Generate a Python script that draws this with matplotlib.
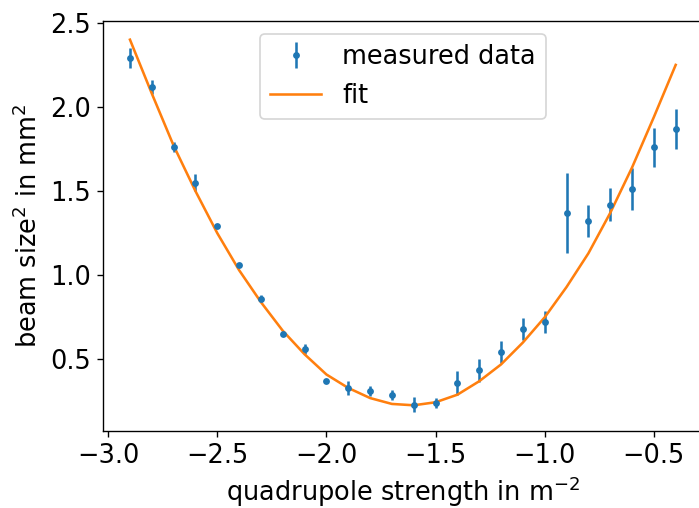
import matplotlib
matplotlib.use("Agg")
import matplotlib.pyplot as plt

# quadrupole strength (1/m^2)
k = [-2.9, -2.8, -2.7, -2.6, -2.5, -2.4, -2.3, -2.2, -2.1, -2.0, -1.9, -1.8, -1.7,
     -1.6, -1.5, -1.4, -1.3, -1.2, -1.1, -1.0, -0.9, -0.8, -0.7, -0.6, -0.5, -0.4]

# measured beam size squared (mm^2) and its error
size2 = [2.29, 2.12, 1.76, 1.55, 1.29, 1.06, 0.86, 0.65, 0.56, 0.37, 0.33, 0.31, 0.29,
         0.23, 0.24, 0.36, 0.435, 0.545, 0.68, 0.72, 1.37, 1.32, 1.42, 1.51, 1.76, 1.87]
size2_err = [0.06, 0.04, 0.03, 0.05, 0.01, 0.01, 0.02, 0.01, 0.03, 0.01, 0.04, 0.03, 0.03,
             0.045, 0.03, 0.07, 0.07, 0.065, 0.065, 0.065, 0.24, 0.095, 0.10, 0.125, 0.115, 0.12]

# fitted curve evaluated at the same k values
fit = [2.40, 2.08, 1.77, 1.50, 1.25, 1.03, 0.84, 0.67, 0.53, 0.41, 0.33, 0.27, 0.235,
       0.227, 0.245, 0.29, 0.37, 0.47, 0.60, 0.75, 0.93, 1.13, 1.37, 1.64, 1.94, 2.25]

plt.rcParams['font.size'] = 15

dpi = 123
fig = plt.figure(figsize=(699 / dpi, 508 / dpi), dpi=dpi)
ax = fig.add_axes([0.1469, 0.1516, 0.8588, 0.807])

eb = ax.errorbar(k, size2, yerr=size2_err, fmt='.', color='#1f77b4', label='measured data')
ln, = ax.plot(k, fit, color='#ff7f0e', label='fit')

ax.set_xlabel('quadrupole strength in m$^{-2}$', labelpad=3)
ax.set_ylabel('beam size$^2$ in mm$^2$')
ax.legend(handles=[eb, ln], loc='upper center')

fig.savefig('out.png', dpi=dpi)
